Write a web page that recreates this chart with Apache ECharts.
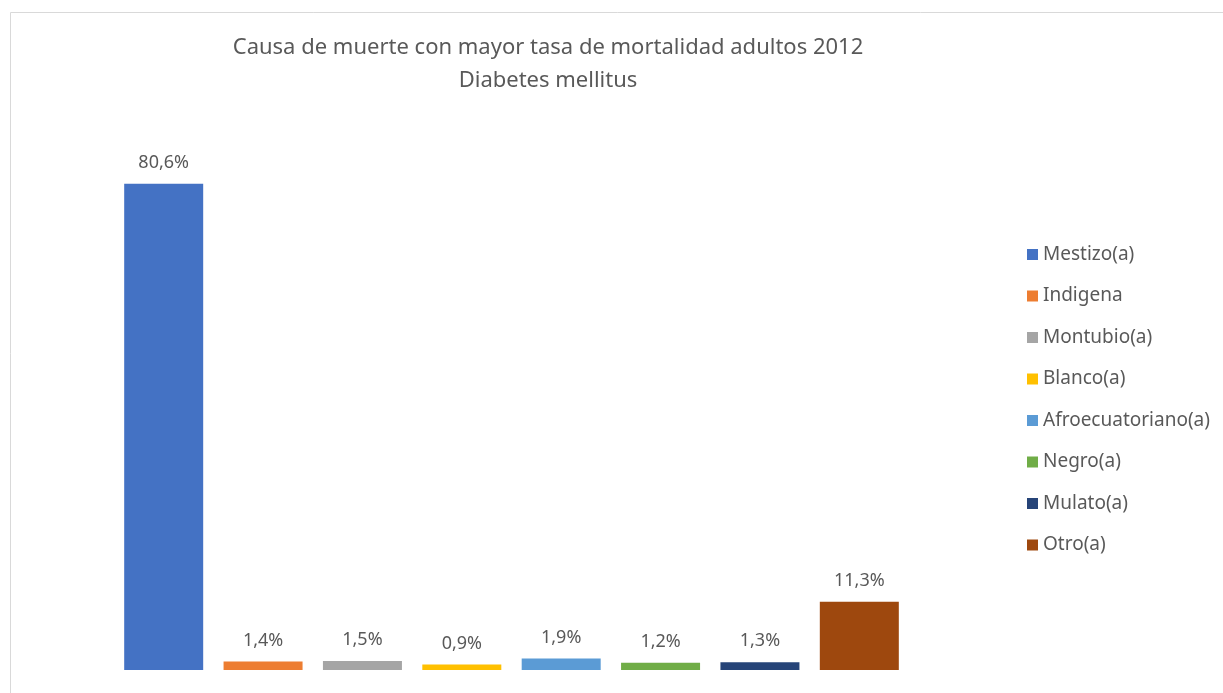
<!DOCTYPE html>
<html>
<head>
<meta charset="utf-8">
<script src="https://cdn.jsdelivr.net/npm/echarts@6/dist/echarts.min.js"></script>
<style>
  html, body { margin: 0; padding: 0; background: #fff; }
  #chart { width: 1223px; height: 693px; }
</style>
</head>
<body>
<div id="chart"></div>
<script>
// datos
var categorias = ['Mestizo(a)', 'Indigena', 'Montubio(a)', 'Blanco(a)', 'Afroecuatoriano(a)', 'Negro(a)', 'Mulato(a)', 'Otro(a)'];
var porcentajes = [80.6, 1.4, 1.5, 0.9, 1.9, 1.2, 1.3, 11.3];
var colores = ['#4472C4', '#ED7D31', '#A5A5A5', '#FFC000', '#5B9BD5', '#70AD47', '#264478', '#9E480E'];
var titulo = 'Causa de muerte con mayor tasa de mortalidad adultos 2012';
var subtitulo = 'Diabetes mellitus';

var fuente = '"Noto Sans", "Open Sans", sans-serif';
var gris = '#595959';

var chartDom = document.getElementById('chart');
var myChart = echarts.init(chartDom);

// una serie por categoria, apiladas para que cada barra quede en su propia columna
var series = categorias.map(function (nombre, i) {
  var datos = categorias.map(function (c, j) { return j === i ? porcentajes[i] : '-'; });
  return {
    name: nombre,
    type: 'bar',
    stack: 'total',
    barWidth: 79,
    data: datos,
    itemStyle: { color: colores[i] },
    label: {
      show: true,
      position: 'top',
      distance: 12,
      fontFamily: fuente,
      fontSize: 18,
      color: gris,
      formatter: function (p) {
        return p.value.toFixed(1).replace('.', ',') + '%';
      }
    }
  };
});

var option = {
  animation: false,
  title: {
    text: titulo,
    subtext: subtitulo,
    left: 543,
    textAlign: 'center',
    top: 32,
    itemGap: 11,
    textStyle: { fontFamily: fuente, fontSize: 22, fontWeight: 'normal', color: gris },
    subtextStyle: { fontFamily: fuente, fontSize: 22, color: gris }
  },
  legend: {
    orient: 'vertical',
    left: 1022,
    top: 240,
    icon: 'rect',
    itemWidth: 11,
    itemHeight: 11,
    itemGap: 22.5,
    textStyle: { fontFamily: fuente, fontSize: 19, color: gris },
    data: categorias
  },
  grid: {
    left: 114,
    width: 795,
    top: 127,
    bottom: 23
  },
  xAxis: {
    type: 'category',
    data: categorias,
    axisLine: { show: false },
    axisTick: { show: false },
    axisLabel: { show: false }
  },
  yAxis: {
    type: 'value',
    min: 0,
    max: 90,
    show: false,
    splitLine: { show: false }
  },
  graphic: [
    {
      type: 'rect',
      shape: { x: 10.5, y: 12.5, width: 1400, height: 900 },
      style: { fill: 'none', stroke: '#d9d9d9', lineWidth: 1 },
      silent: true
    }
  ],
  series: series
};

option && myChart.setOption(option);
</script>
</body>
</html>
